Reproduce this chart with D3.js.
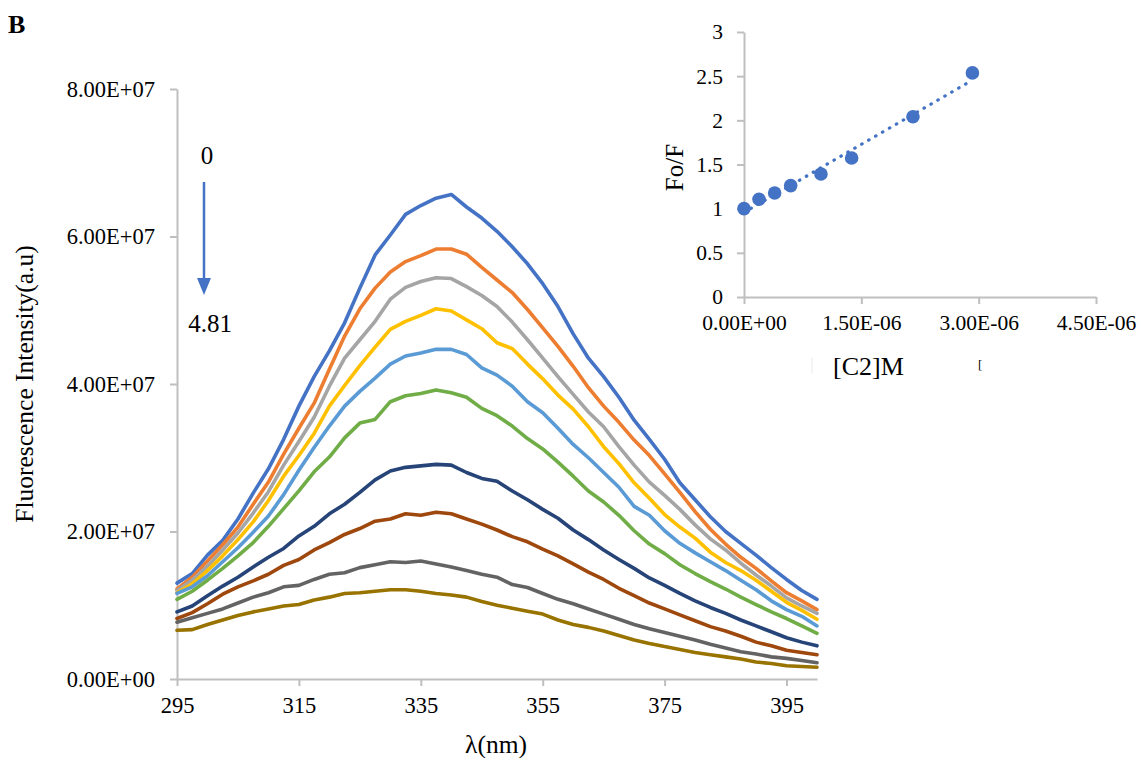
<!DOCTYPE html>
<html>
<head>
<meta charset="utf-8">
<script src="https://cdn.jsdelivr.net/npm/d3@7"></script>
<style>
  body { margin: 0; background: #fff; }
  svg text { font-family: 'Liberation Serif', 'DejaVu Serif', serif; }
</style>
</head>
<body>
<div id="chart"></div>
<script>
// wavelength grid (nm)
const wavelengths = d3.range(0, 43).map(i => 295 + i * 2.5);

// emission intensities, units of 1e7 (top curve = 0, bottom = 4.81)
const s1 = [1.30,1.43,1.68,1.88,2.17,2.52,2.85,3.25,3.70,4.10,4.45,4.83,5.30,5.75,6.02,6.30,6.42,6.52,6.57,6.40,6.25,6.07,5.86,5.63,5.36,5.05,4.68,4.35,4.10,3.82,3.51,3.25,2.98,2.66,2.43,2.20,2.00,1.84,1.68,1.51,1.35,1.20,1.08];
const s2 = [1.22,1.38,1.60,1.82,2.06,2.37,2.67,3.05,3.40,3.74,4.20,4.65,5.02,5.30,5.52,5.66,5.74,5.83,5.83,5.76,5.58,5.41,5.24,5.01,4.76,4.51,4.24,3.95,3.70,3.48,3.24,3.03,2.78,2.53,2.27,2.03,1.83,1.65,1.50,1.33,1.17,1.06,0.94];
const s3 = [1.20,1.34,1.53,1.75,1.98,2.25,2.54,2.90,3.22,3.55,3.97,4.35,4.60,4.85,5.15,5.31,5.39,5.44,5.43,5.32,5.20,5.05,4.84,4.60,4.35,4.10,3.86,3.62,3.42,3.15,2.90,2.67,2.49,2.30,2.09,1.90,1.75,1.57,1.41,1.26,1.10,0.99,0.89];
const s4 = [1.17,1.29,1.47,1.67,1.89,2.13,2.42,2.75,3.03,3.33,3.70,3.98,4.25,4.50,4.74,4.85,4.93,5.02,4.99,4.87,4.75,4.56,4.48,4.27,4.07,3.85,3.66,3.42,3.15,2.92,2.66,2.45,2.23,2.06,1.91,1.72,1.58,1.47,1.34,1.19,1.04,0.93,0.81];
const s5 = [1.16,1.25,1.40,1.59,1.78,1.99,2.21,2.50,2.83,3.14,3.43,3.70,3.90,4.08,4.27,4.38,4.42,4.47,4.47,4.40,4.22,4.12,3.97,3.76,3.61,3.40,3.18,3.00,2.80,2.60,2.34,2.22,2.01,1.84,1.71,1.59,1.47,1.34,1.21,1.06,0.94,0.85,0.72];
const s6 = [1.08,1.19,1.34,1.50,1.67,1.85,2.07,2.31,2.55,2.81,3.01,3.27,3.47,3.52,3.76,3.84,3.87,3.92,3.88,3.82,3.67,3.57,3.43,3.26,3.12,2.94,2.75,2.55,2.40,2.22,2.01,1.83,1.70,1.55,1.43,1.32,1.22,1.11,1.01,0.91,0.82,0.72,0.62];
const s7 = [0.91,0.99,1.13,1.26,1.38,1.52,1.65,1.77,1.94,2.07,2.24,2.37,2.53,2.70,2.82,2.87,2.89,2.91,2.90,2.80,2.72,2.68,2.55,2.43,2.30,2.18,2.02,1.89,1.75,1.62,1.50,1.37,1.27,1.16,1.06,0.97,0.89,0.80,0.72,0.64,0.56,0.50,0.45];
const s8 = [0.82,0.90,1.02,1.15,1.25,1.33,1.42,1.54,1.62,1.75,1.85,1.96,2.04,2.14,2.17,2.24,2.22,2.26,2.24,2.17,2.10,2.02,1.93,1.86,1.76,1.67,1.56,1.45,1.35,1.23,1.13,1.03,0.95,0.87,0.79,0.71,0.65,0.58,0.50,0.45,0.39,0.36,0.33];
const s9 = [0.77,0.83,0.89,0.95,1.03,1.11,1.17,1.25,1.27,1.35,1.42,1.44,1.51,1.55,1.59,1.58,1.60,1.56,1.52,1.47,1.42,1.38,1.28,1.24,1.16,1.08,1.02,0.95,0.88,0.81,0.74,0.68,0.63,0.58,0.53,0.47,0.42,0.37,0.34,0.30,0.28,0.25,0.22];
const s10 = [0.66,0.67,0.74,0.80,0.86,0.91,0.95,0.99,1.01,1.07,1.11,1.16,1.17,1.19,1.21,1.21,1.19,1.16,1.14,1.11,1.05,1.00,0.96,0.92,0.88,0.80,0.74,0.70,0.65,0.59,0.53,0.48,0.44,0.40,0.36,0.33,0.30,0.27,0.23,0.21,0.18,0.17,0.16];
const seriesList = [s1, s2, s3, s4, s5, s6, s7, s8, s9, s10];
const seriesColors = ['#4472C4','#ED7D31','#A5A5A5','#FFC000','#5B9BD5','#70AD47','#264478','#9E480E','#636363','#997300'];

const xTicks = [295, 315, 335, 355, 375, 395];
const yTicks = [0, 2e7, 4e7, 6e7, 8e7];

// inset: Stern-Volmer plot
const conc = [0, 0.192e-6, 0.392e-6, 0.597e-6, 0.984e-6, 1.376e-6, 2.16e-6, 2.92e-6];
const ratio = [1.0, 1.107, 1.178, 1.261, 1.393, 1.573, 2.04, 2.537];
const insetXTicks = [0, 1.5e-6, 3e-6, 4.5e-6];
const insetYTicks = [0, 0.5, 1, 1.5, 2, 2.5, 3];

// excel style 0.00E+00
function fmtE(v) {
  const parts = v.toExponential(2).split('e');
  const sign = parts[1][0];
  let exp = parts[1].slice(1);
  if (exp.length < 2) exp = '0' + exp;
  return parts[0] + 'E' + sign + exp;
}

const width = 1138;
const height = 758;
const axisColor = '#BFBFBF';
const serif = "'Liberation Serif', 'DejaVu Serif', serif";

const svg = d3.select('#chart').append('svg')
  .attr('width', width)
  .attr('height', height)
  .style('display', 'block');

svg.append('rect').attr('width', width).attr('height', height).attr('fill', '#fff');

// ---- main spectra chart ----
const xScale = d3.scaleLinear().domain([295, 400]).range([177, 817]);
const yScale = d3.scaleLinear().domain([0, 8e7]).range([679, 89]);

const yAxis = d3.axisLeft(yScale)
  .tickValues(yTicks)
  .tickSize(7)
  .tickSizeOuter(0)
  .tickPadding(15)
  .tickFormat(fmtE);

const yAxisG = svg.append('g')
  .attr('class', 'yAxis')
  .attr('transform', `translate(${xScale.range()[0]},0)`)
  .call(yAxis);

const xAxis = d3.axisBottom(xScale)
  .tickValues(xTicks)
  .tickSize(7)
  .tickSizeOuter(0)
  .tickPadding(10)
  .tickFormat(d3.format('d'));

const xAxisG = svg.append('g')
  .attr('class', 'xAxis')
  .attr('transform', `translate(0,${yScale(0)})`)
  .call(xAxis);

[yAxisG, xAxisG].forEach((g) => {
  g.attr('font-family', serif).attr('font-size', 22.5);
  g.select('.domain').attr('stroke', axisColor).attr('stroke-width', 2);
  g.selectAll('.tick line').attr('stroke', axisColor).attr('stroke-width', 2);
  g.selectAll('.tick text').attr('fill', '#000');
});
xAxisG.selectAll('.tick text').attr('dy', '0.75em');

const line = d3.line()
  .x((d, i) => xScale(wavelengths[i]))
  .y((d) => yScale(d * 1e7));

const lineGroup = svg.append('g').attr('class', 'lineGroup');
seriesList.forEach((s, i) => {
  lineGroup.append('path')
    .datum(s)
    .attr('d', line)
    .attr('fill', 'none')
    .attr('stroke', seriesColors[i])
    .attr('stroke-width', 3.6)
    .attr('stroke-linejoin', 'round')
    .attr('stroke-linecap', 'round');
});

// text helper
function label(x, y, txt, size, opts = {}) {
  const t = svg.append('text')
    .attr('x', x)
    .attr('y', y)
    .attr('font-family', serif)
    .attr('font-size', size)
    .attr('fill', '#000')
    .attr('text-anchor', opts.anchor || 'start')
    .text(txt);
  if (opts.rotate) t.attr('transform', `rotate(-90,${x},${y})`);
  if (opts.bold) t.attr('font-weight', 'bold');
  return t;
}

// axis titles
label(33, (yScale(0) + yScale(8e7)) / 2, 'Fluorescence Intensity(a.u)', 25.5, { anchor: 'middle', rotate: true });
label(496, 753, 'λ(nm)', 25.5, { anchor: 'middle' });
label(8, 33, 'B', 26, { bold: true });

// concentration arrow
const arrowX = 204;
svg.append('line')
  .attr('x1', arrowX).attr('y1', 182)
  .attr('x2', arrowX).attr('y2', 282)
  .attr('stroke', '#4472C4')
  .attr('stroke-width', 2.5);
svg.append('path')
  .attr('d', `M${arrowX - 7},278 L${arrowX + 7},278 L${arrowX},295 Z`)
  .attr('fill', '#4472C4');

label(207, 164, '0', 25, { anchor: 'middle' });
label(210, 332, '4.81', 25, { anchor: 'middle' });

// ---- inset ----
const ixScale = d3.scaleLinear().domain([0, 4.5e-6]).range([744, 1096]);
const iyScale = d3.scaleLinear().domain([0, 3]).range([297, 32]);

const iyAxisG = svg.append('g')
  .attr('transform', `translate(${ixScale(0)},0)`)
  .call(d3.axisLeft(iyScale)
    .tickValues(insetYTicks)
    .tickSize(7)
    .tickSizeOuter(0)
    .tickPadding(14)
    .tickFormat(d3.format('')));

const ixAxisG = svg.append('g')
  .attr('transform', `translate(0,${iyScale(0)})`)
  .call(d3.axisBottom(ixScale)
    .tickValues(insetXTicks)
    .tickSize(7)
    .tickSizeOuter(0)
    .tickPadding(10)
    .tickFormat(fmtE));

[iyAxisG, ixAxisG].forEach((g) => {
  g.attr('font-family', serif).attr('font-size', 21.5);
  g.select('.domain').attr('stroke', axisColor).attr('stroke-width', 2);
  g.selectAll('.tick line').attr('stroke', axisColor).attr('stroke-width', 2);
  g.selectAll('.tick text').attr('fill', '#000');
});
ixAxisG.selectAll('.tick text').attr('dy', '0.75em');

// linear trendline through the inset points
const mx = d3.mean(conc);
const my = d3.mean(ratio);
const slope = d3.sum(conc, (c, i) => (c - mx) * (ratio[i] - my)) / d3.sum(conc, (c) => (c - mx) * (c - mx));
const intercept = my - slope * mx;
const xExt = d3.extent(conc);

svg.append('path')
  .datum(xExt)
  .attr('d', d3.line()
    .x((d) => ixScale(d))
    .y((d) => iyScale(intercept + slope * d)))
  .attr('fill', 'none')
  .attr('stroke', '#4472C4')
  .attr('stroke-width', 3.2)
  .attr('stroke-linecap', 'round')
  .attr('stroke-dasharray', '0.5 7.5');

svg.append('g')
  .selectAll('circle')
  .data(conc)
  .join('circle')
  .attr('cx', (d) => ixScale(d))
  .attr('cy', (d, i) => iyScale(ratio[i]))
  .attr('r', 6.8)
  .attr('fill', '#4472C4');

label(683, (iyScale(0) + iyScale(3)) / 2 + 3, 'Fo/F', 25, { anchor: 'middle', rotate: true });

svg.append('line')
  .attr('x1', 812).attr('y1', 357)
  .attr('x2', 812).attr('y2', 374)
  .attr('stroke', '#EBEBEB')
  .attr('stroke-width', 1);

label(833, 375, '[C2]M', 26);
label(978, 369, '[', 13);
</script>
</body>
</html>
